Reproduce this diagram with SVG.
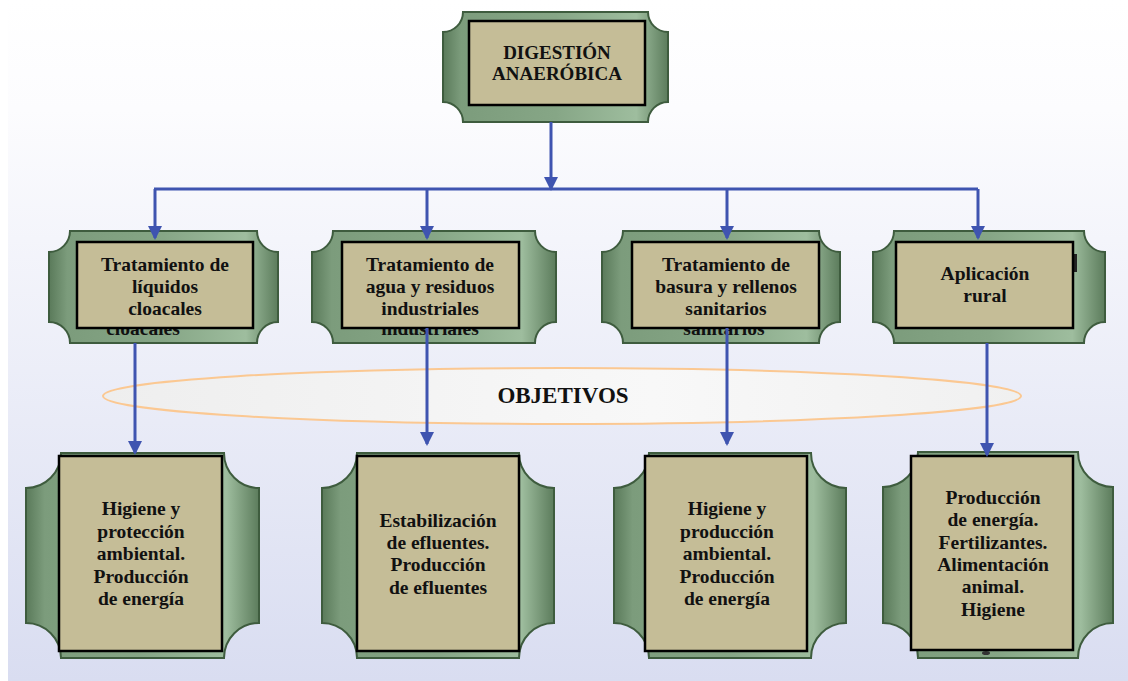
<svg xmlns="http://www.w3.org/2000/svg" width="1128" height="681" viewBox="0 0 1128 681">
  <defs>
    <linearGradient id="bg" x1="0" y1="0" x2="0" y2="1">
      <stop offset="0" stop-color="#ffffff"/>
      <stop offset="0.16" stop-color="#fcfcfe"/>
      <stop offset="1" stop-color="#d9ddf1"/>
    </linearGradient>
    <linearGradient id="plq" x1="0" y1="0" x2="1" y2="0">
      <stop offset="0" stop-color="#5a7a5a"/>
      <stop offset="0.08" stop-color="#7c9c7c"/>
      <stop offset="0.5" stop-color="#86a686"/>
      <stop offset="0.86" stop-color="#9ebd9e"/>
      <stop offset="1" stop-color="#5c7c5c"/>
    </linearGradient>
    <linearGradient id="ell" x1="0" y1="0" x2="1" y2="0">
      <stop offset="0" stop-color="#eeeeee"/>
      <stop offset="0.6" stop-color="#f8f8f8"/>
      <stop offset="1" stop-color="#f0f0f0"/>
    </linearGradient>
    <clipPath id="clip1"><rect x="49" y="329" width="229" height="14"/></clipPath>
    <clipPath id="clip2"><rect x="312" y="329" width="244" height="14"/></clipPath>
    <clipPath id="clip3"><rect x="602" y="329" width="238" height="14"/></clipPath>
    <marker id="ah" viewBox="0 0 14 14" refX="12" refY="7" markerWidth="14" markerHeight="14" markerUnits="userSpaceOnUse" orient="auto">
      <path d="M0,0 L14,7 L0,14 Z" fill="#3f54b0"/>
    </marker>
  </defs>
  <style>
    .plaque { fill: url(#plq); stroke: #3e5c3e; stroke-width: 2; }
    .inner { fill: #c5bd97; stroke: #000; stroke-width: 2.5; }
    .t { font-family: "Liberation Serif", "DejaVu Serif", serif; font-weight: bold; font-size: 19.5px; fill: #111; text-anchor: middle; }
    .top { font-size: 19px; }
    .big { font-size: 23px; }
    .conn { fill: none; stroke: #3f54b0; stroke-width: 3; }
  </style>

  <rect x="8" y="0" width="1120" height="681" fill="url(#bg)"/>

  <g id="objetivos">
    <ellipse cx="562" cy="396" rx="459" ry="28" fill="url(#ell)" stroke="#fbc892" stroke-width="2"/>
  </g>

  <g id="node-top">
    <path class="plaque" d="M463,12 H648 A20,20 0 0 0 668,32 V102 A20,20 0 0 0 648,122 H463 A20,20 0 0 0 443,102 V32 A20,20 0 0 0 463,12 Z"/>
    <rect class="inner" x="469" y="21" width="176" height="84"/>
    <text class="t top" x="557" y="59">DIGESTIÓN</text>
    <text class="t top" x="557" y="80">ANAERÓBICA</text>
  </g>

  <g id="node-liquidos">
    <path class="plaque" d="M70,231 H257 A21,21 0 0 0 278,252 V322 A21,21 0 0 0 257,343 H70 A21,21 0 0 0 49,322 V252 A21,21 0 0 0 70,231 Z"/>
    <text class="t" x="143" y="335" clip-path="url(#clip1)">cloacales</text>
    <rect class="inner" x="77" y="242" width="176" height="86"/>
    <text class="t" x="165" y="271">Tratamiento de</text>
    <text class="t" x="165" y="293">líquidos</text>
    <text class="t" x="165" y="315">cloacales</text>
  </g>

  <g id="node-industriales">
    <path class="plaque" d="M333,231 H535 A21,21 0 0 0 556,252 V322 A21,21 0 0 0 535,343 H333 A21,21 0 0 0 312,322 V252 A21,21 0 0 0 333,231 Z"/>
    <text class="t" x="430" y="335" clip-path="url(#clip2)">industriales</text>
    <rect class="inner" x="342" y="242" width="177" height="86"/>
    <text class="t" x="430" y="271">Tratamiento de</text>
    <text class="t" x="430" y="293">agua y residuos</text>
    <text class="t" x="430" y="315">industriales</text>
  </g>

  <g id="node-basura">
    <path class="plaque" d="M623,231 H819 A21,21 0 0 0 840,252 V322 A21,21 0 0 0 819,343 H623 A21,21 0 0 0 602,322 V252 A21,21 0 0 0 623,231 Z"/>
    <text class="t" x="724" y="335" clip-path="url(#clip3)">sanitarios</text>
    <rect class="inner" x="632" y="242" width="187" height="86"/>
    <text class="t" x="726" y="271">Tratamiento de</text>
    <text class="t" x="726" y="293">basura y rellenos</text>
    <text class="t" x="726" y="315">sanitarios</text>
  </g>

  <g id="node-rural">
    <path class="plaque" d="M894,231 H1084 A21,21 0 0 0 1105,252 V322 A21,21 0 0 0 1084,343 H894 A21,21 0 0 0 873,322 V252 A21,21 0 0 0 894,231 Z"/>
    <rect x="1074" y="254" width="3" height="18" fill="#222"/>
    <rect class="inner" x="896" y="242" width="177" height="86"/>
    <text class="t" x="985" y="280">Aplicación</text>
    <text class="t" x="985" y="302">rural</text>
  </g>

  <g id="obj-label">
    <text class="t big" x="563" y="403">OBJETIVOS</text>
  </g>

  <g id="node-higiene1">
    <path class="plaque" d="M61,453 H224 A35,35 0 0 0 259,488 V623 A35,35 0 0 0 224,658 H61 A35,35 0 0 0 26,623 V488 A35,35 0 0 0 61,453 Z"/>
    <rect class="inner" x="59" y="456" width="163" height="195"/>
    <text class="t" x="141" y="515">Higiene y</text>
    <text class="t" x="141" y="538">protección</text>
    <text class="t" x="141" y="560">ambiental.</text>
    <text class="t" x="141" y="583">Producción</text>
    <text class="t" x="141" y="605">de energía</text>
  </g>

  <g id="node-estabilizacion">
    <path class="plaque" d="M357,453 H519 A35,35 0 0 0 554,488 V623 A35,35 0 0 0 519,658 H357 A35,35 0 0 0 322,623 V488 A35,35 0 0 0 357,453 Z"/>
    <rect class="inner" x="357" y="456" width="162" height="195"/>
    <text class="t" x="438" y="527">Estabilización</text>
    <text class="t" x="438" y="549">de efluentes.</text>
    <text class="t" x="438" y="571">Producción</text>
    <text class="t" x="438" y="594">de efluentes</text>
  </g>

  <g id="node-higiene2">
    <path class="plaque" d="M649,453 H811 A35,35 0 0 0 846,488 V623 A35,35 0 0 0 811,658 H649 A35,35 0 0 0 614,623 V488 A35,35 0 0 0 649,453 Z"/>
    <rect class="inner" x="645" y="456" width="162" height="195"/>
    <text class="t" x="727" y="515">Higiene y</text>
    <text class="t" x="727" y="538">producción</text>
    <text class="t" x="727" y="560">ambiental.</text>
    <text class="t" x="727" y="583">Producción</text>
    <text class="t" x="727" y="605">de energía</text>
  </g>

  <g id="node-energia">
    <path class="plaque" d="M918,452 H1078 A35,35 0 0 0 1113,487 V623 A35,35 0 0 0 1078,658 H918 A35,35 0 0 0 883,623 V487 A35,35 0 0 0 918,452 Z"/>
    <ellipse cx="986" cy="653" rx="4" ry="2" fill="#333"/>
    <rect class="inner" x="911" y="456" width="162" height="194"/>
    <text class="t" x="993" y="504">Producción</text>
    <text class="t" x="993" y="526">de energía.</text>
    <text class="t" x="993" y="549">Fertilizantes.</text>
    <text class="t" x="993" y="571">Alimentación</text>
    <text class="t" x="993" y="593">animal.</text>
    <text class="t" x="993" y="616">Higiene</text>
  </g>

  <g id="connectors">
    <path class="conn" d="M551,122 V189" marker-end="url(#ah)"/>
    <path class="conn" d="M154,189 H978"/>
    <path class="conn" d="M155,189 V238" marker-end="url(#ah)"/>
    <path class="conn" d="M427,189 V238" marker-end="url(#ah)"/>
    <path class="conn" d="M727,189 V238" marker-end="url(#ah)"/>
    <path class="conn" d="M978,189 V238" marker-end="url(#ah)"/>
    <path class="conn" d="M135,343 V453" marker-end="url(#ah)"/>
    <path class="conn" d="M427,328 V444" marker-end="url(#ah)"/>
    <path class="conn" d="M727,328 V444" marker-end="url(#ah)"/>
    <path class="conn" d="M987,343 V455" marker-end="url(#ah)"/>
  </g>
</svg>
